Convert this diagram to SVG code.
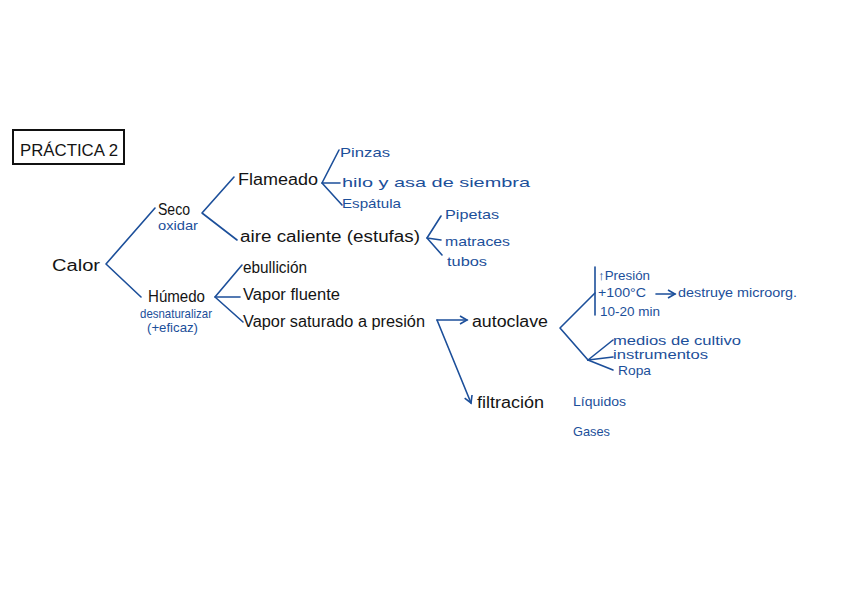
<svg xmlns="http://www.w3.org/2000/svg" width="848" height="599" viewBox="0 0 848 599">
<style>
text{font-family:"Liberation Sans",Arial,sans-serif}
.k{fill:#141414;font-size:16px}
.b{fill:#1c4f9a;font-size:13px}
.c{fill:none;stroke:#1c4f9a;stroke-width:1.6;stroke-linecap:round;stroke-linejoin:round}
</style>
<defs>
<marker id="ah" markerWidth="10" markerHeight="10" refX="8" refY="5" orient="auto" markerUnits="userSpaceOnUse">
<path d="M1,1 L8,5 L1,9" fill="none" stroke="#1c4f9a" stroke-width="1.6"/>
</marker>
</defs>
<rect width="848" height="599" fill="#fff"/>
<g id="title">
<rect x="13" y="130" width="111" height="34" fill="none" stroke="#111" stroke-width="2"/>
<text x="20" y="156" class="k" font-size="15" textLength="98" lengthAdjust="spacingAndGlyphs">PRÁCTICA 2</text>
</g>
<g id="connectors">
<polyline class="c" points="155,208 106,264 141,297"/>
<polyline class="c" points="234,177 202,213 237,240"/>
<polyline class="c" points="339,150 322,183 340,183"/>
<line class="c" x1="322" y1="183" x2="342" y2="205"/>
<polyline class="c" points="441,216 427,238 442,255"/>
<line class="c" x1="427" y1="238" x2="441" y2="240"/>
<polyline class="c" points="242,265 215,297 243,322"/>
<line class="c" x1="215" y1="297" x2="240" y2="297"/>
<line class="c" x1="437" y1="320" x2="467" y2="320" marker-end="url(#ah)"/>
<line class="c" x1="437" y1="320" x2="471" y2="403" marker-end="url(#ah)"/>
<polyline class="c" points="595,293 560,328 588,360"/>
<line class="c" x1="595" y1="267" x2="595" y2="315"/>
<line class="c" x1="588" y1="360" x2="613" y2="340"/>
<line class="c" x1="588" y1="360" x2="613" y2="357"/>
<line class="c" x1="588" y1="360" x2="613" y2="370"/>
<line class="c" x1="656" y1="294" x2="675" y2="294" marker-end="url(#ah)"/>
</g>
<g id="calor"><text x="52" y="271" class="k" font-size="20" textLength="48" lengthAdjust="spacingAndGlyphs">Calor</text></g>
<g id="seco">
<text x="158" y="215" class="k" textLength="32" lengthAdjust="spacingAndGlyphs">Seco</text>
<text x="158" y="230" class="b" textLength="40" lengthAdjust="spacingAndGlyphs">oxidar</text>
</g>
<g id="humedo">
<text x="148" y="302" class="k" textLength="57" lengthAdjust="spacingAndGlyphs">Húmedo</text>
<text x="140" y="318" class="b" font-size="12" textLength="72" lengthAdjust="spacingAndGlyphs">desnaturalizar</text>
<text x="147" y="332" class="b" font-size="12" textLength="51" lengthAdjust="spacingAndGlyphs">(+eficaz)</text>
</g>
<g id="flameado"><text x="238" y="185" class="k" textLength="80" lengthAdjust="spacingAndGlyphs">Flameado</text></g>
<g id="pinzas"><text x="340" y="157" class="b" textLength="50" lengthAdjust="spacingAndGlyphs">Pinzas</text></g>
<g id="hilo"><text x="342" y="187" class="b" textLength="188" lengthAdjust="spacingAndGlyphs">hilo y asa de siembra</text></g>
<g id="espatula"><text x="342" y="208" class="b" textLength="59" lengthAdjust="spacingAndGlyphs">Espátula</text></g>
<g id="aire"><text x="240" y="242" class="k" textLength="180" lengthAdjust="spacingAndGlyphs">aire caliente (estufas)</text></g>
<g id="pipetas"><text x="445" y="219" class="b" font-size="14" textLength="54" lengthAdjust="spacingAndGlyphs">Pipetas</text></g>
<g id="matraces"><text x="445" y="246" class="b" font-size="14" textLength="65" lengthAdjust="spacingAndGlyphs">matraces</text></g>
<g id="tubos"><text x="447" y="266" class="b" font-size="14" textLength="40" lengthAdjust="spacingAndGlyphs">tubos</text></g>
<g id="ebullicion"><text x="243" y="273" class="k" font-size="14" textLength="64" lengthAdjust="spacingAndGlyphs">ebullición</text></g>
<g id="fluente"><text x="243" y="300" class="k" font-size="15" textLength="97" lengthAdjust="spacingAndGlyphs">Vapor fluente</text></g>
<g id="saturado"><text x="243" y="327" class="k" font-size="14" textLength="182" lengthAdjust="spacingAndGlyphs">Vapor saturado  a presión</text></g>
<g id="autoclave"><text x="472" y="327" class="k" textLength="76" lengthAdjust="spacingAndGlyphs">autoclave</text></g>
<g id="presion"><text x="598" y="280" class="b" font-size="12" textLength="52" lengthAdjust="spacingAndGlyphs">↑Presión</text></g>
<g id="cien"><text x="598" y="297" class="b" font-size="12" textLength="48" lengthAdjust="spacingAndGlyphs">+100°C</text>
<text x="678" y="297" class="b" font-size="12" textLength="119" lengthAdjust="spacingAndGlyphs">destruye microorg.</text></g>
<g id="min"><text x="600" y="316" class="b" font-size="11" textLength="60" lengthAdjust="spacingAndGlyphs">10-20 min</text></g>
<g id="medios"><text x="613" y="345" class="b" font-size="13" textLength="128" lengthAdjust="spacingAndGlyphs">medios de cultivo</text></g>
<g id="instrumentos"><text x="613" y="359" class="b" font-size="13" textLength="95" lengthAdjust="spacingAndGlyphs">instrumentos</text></g>
<g id="ropa"><text x="618" y="375" class="b" font-size="13" textLength="33" lengthAdjust="spacingAndGlyphs">Ropa</text></g>
<g id="filtracion"><text x="477" y="408" class="k" font-size="15" textLength="67" lengthAdjust="spacingAndGlyphs">filtración</text></g>
<g id="liquidos"><text x="573" y="406" class="b" font-size="12" textLength="53" lengthAdjust="spacingAndGlyphs">Líquidos</text></g>
<g id="gases"><text x="573" y="436" class="b" font-size="12" textLength="37" lengthAdjust="spacingAndGlyphs">Gases</text></g>
</svg>
